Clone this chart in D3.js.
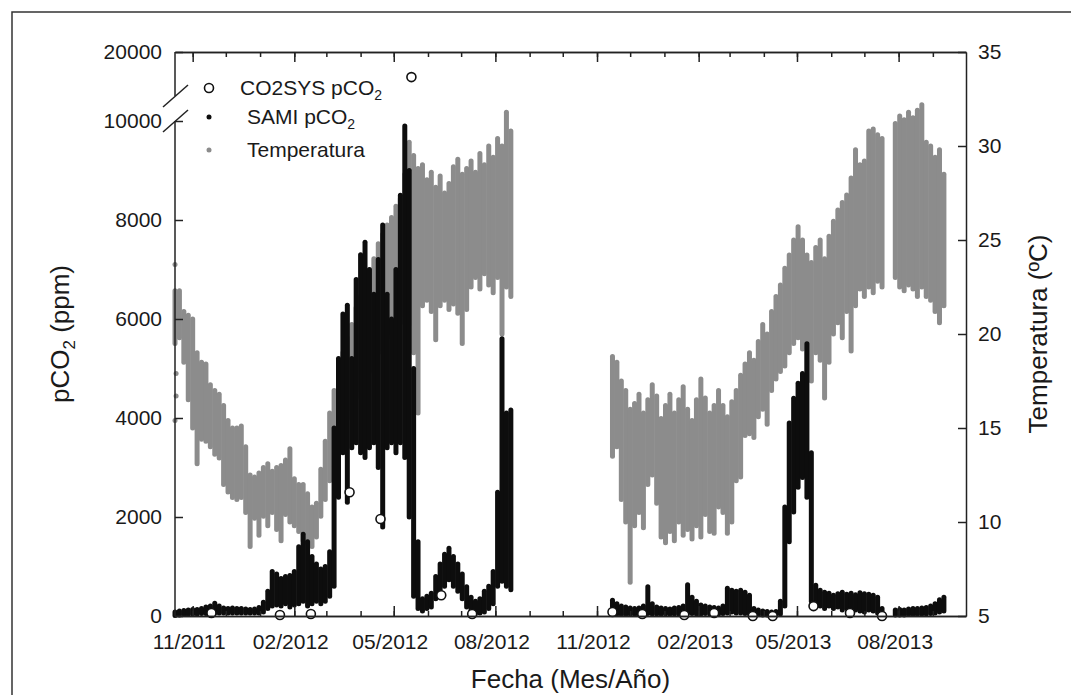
<!DOCTYPE html>
<html>
<head>
<meta charset="utf-8">
<script src="https://cdn.jsdelivr.net/npm/d3@7"></script>
<style>
body { margin: 0; background: #fff; }
text { font-family: "Liberation Sans", Arial, sans-serif; fill: #1a1a1a; }
</style>
</head>
<body>
<div id="chart"></div>
<script>
// Dense records read from the picture as the low/high edge of the dot cloud,
// one pair every 4 days from the start date of each deployment (null = no data)
const stepDays = 4;
const start1 = "2011-10-16";
const start2 = "2012-11-15";

const tempLow1 = [19.5,19.8,18.5,16.5,15.0,13.1,14.4,14.3,14.0,13.6,
    13.4,12.0,11.6,11.3,11.2,11.3,10.5,8.7,10.2,9.3,
    10.3,9.8,10.5,9.6,9.0,10.4,10.0,9.8,9.5,9.0,
    8.9,8.7,9.2,10.3,11.2,12.2,13.0,14.2,14.8,15.5,
    16.0,16.6,17.0,17.5,18.0,18.4,19.0,19.2,19.8,20.0,
    20.4,20.6,21.0,20.5,19.0,15.8,21.5,21.8,21.2,19.7,
    21.5,21.8,21.3,21.6,21.1,19.5,21.3,22.5,23.0,22.4,
    23.2,22.6,22.2,23.0,20.0,22.5,22.0];
const tempHigh1 = [22.3,22.3,21.2,21.0,20.8,19.0,18.5,18.4,17.3,17.0,
    16.8,16.2,15.4,15.0,15.0,15.1,14.0,12.5,12.4,12.6,
    12.9,13.1,12.7,12.9,13.0,13.3,13.9,12.3,12.0,12.0,
    11.5,10.8,11.0,12.8,14.3,15.8,17.0,18.0,19.0,19.8,
    20.5,21.4,22.0,22.8,23.4,24.0,24.8,25.3,25.8,26.2,
    26.8,27.2,28.5,30.2,29.5,28.8,29.0,28.2,28.6,27.8,
    28.4,27.5,28.0,28.9,29.3,28.5,28.8,29.2,28.6,29.6,
    29.0,30.0,29.4,30.4,30.0,31.8,30.8];
const tempLow2 = [13.5,14.0,11.2,10.0,6.8,9.8,10.5,9.7,12.0,12.5,
    11.0,9.2,8.9,9.5,9.0,10.0,9.3,9.6,9.1,9.8,
    9.2,10.4,9.5,9.4,10.8,10.5,9.4,10.0,12.2,12.4,
    14.6,14.7,14.5,15.6,16.0,15.2,17.0,17.6,18.0,18.3,
    19.0,19.5,19.8,19.2,18.0,17.5,19.0,18.6,16.6,18.5,
    20.0,20.6,19.8,21.2,19.1,21.5,22.4,22.0,22.5,22.2,
    22.8,22.5,null,null,23.0,22.5,22.3,22.6,22.4,22.0,
    22.5,22.0,21.8,21.2,20.6,21.5];
const tempHigh2 = [18.8,18.5,17.5,17.0,16.0,16.3,16.8,15.8,16.5,17.3,
    16.7,15.5,16.2,16.8,15.8,16.5,17.2,16.0,15.4,16.5,
    17.6,16.6,15.8,16.2,17.0,16.2,15.6,16.4,17.0,17.8,
    18.4,19.0,18.6,19.6,20.5,20.0,21.2,22.0,22.6,23.5,
    24.2,25.0,25.7,25.0,24.2,23.8,24.6,25.0,24.0,25.2,
    26.0,26.6,27.0,27.4,28.3,29.8,29.0,29.2,30.8,30.9,
    30.6,30.4,null,null,31.2,31.6,31.4,31.8,31.5,31.9,
    32.2,30.2,30.0,29.4,29.8,28.5];

const samiLow1 = [10,20,30,30,40,40,50,50,50,60,
    60,60,60,60,60,60,60,60,60,60,
    80,150,200,220,200,250,180,220,250,300,
    200,250,300,250,300,400,600,2400,3300,2300,
    3400,3500,3300,3200,3400,3500,3000,1800,3400,3500,
    3300,3500,3200,2000,400,150,100,150,180,350,
    500,600,730,600,500,350,180,80,50,60,
    80,150,250,600,700,600,530];
const samiHigh1 = [80,100,110,120,130,130,150,180,200,260,
    200,160,150,160,150,150,140,130,140,170,
    280,500,900,850,760,800,820,900,1400,1650,
    1500,1200,1050,950,1000,1300,3800,5200,6100,6280,
    5200,6800,7300,7550,7000,6500,7200,7900,6500,6000,
    7000,8500,9900,9000,5000,1500,350,400,460,800,
    1050,1250,1370,1200,1050,850,590,380,300,350,
    500,600,900,2500,5600,4100,4160];
const samiLow2 = [60,40,30,30,40,30,30,40,50,40,
    40,40,40,40,40,40,50,60,50,40,
    40,50,40,40,40,50,60,80,60,60,
    50,40,30,30,20,20,20,20,40,200,
    1500,2100,2600,2800,2400,300,250,200,150,200,
    150,180,120,150,100,120,100,80,120,100,
    60,40,null,null,20,20,20,30,30,30,
    40,40,50,60,80,100];
const samiHigh2 = [320,250,200,180,160,150,160,200,590,250,
    180,160,150,140,160,170,200,630,380,300,
    220,200,180,170,160,200,560,520,500,520,
    480,420,150,120,100,90,80,90,300,2200,
    3900,4400,4700,4900,5500,3300,620,520,480,460,
    420,450,480,440,460,430,470,450,440,420,
    380,150,null,null,120,130,120,140,150,150,
    160,170,200,250,330,380];

// Loose temperature dots at the very start
const strayTempDates = ["2011-10-16", "2011-10-17", "2011-10-17", "2011-10-16"];
const strayTempValues = [23.7, 17.9, 16.7, 15.4];

// CO2SYS discrete samples
const co2sysDates = ["2011-11-18", "2012-01-19", "2012-02-16", "2012-03-22", "2012-04-19",
    "2012-05-17", "2012-06-13", "2012-07-11", "2012-11-15", "2012-12-12", "2013-01-19",
    "2013-02-15", "2013-03-22", "2013-04-09", "2013-05-16", "2013-06-18", "2013-07-17"];
const co2sysValues = [60, 20, 40, 2500, 1960, 14300, 420, 40, 80, 40, 20, 60, 0, 0, 200, 60, 0];

// Axis ticks
const xMajorTicks = ["2011-11-01", "2012-02-01", "2012-05-01", "2012-08-01",
    "2012-11-01", "2013-02-01", "2013-05-01", "2013-08-01"];
const pco2Ticks = [0, 2000, 4000, 6000, 8000, 10000];
const pco2TopTicks = [20000];
const tempTicks = [5, 10, 15, 20, 25, 30, 35];

const parseDate = d3.utcParse("%Y-%m-%d");

function buildSeries(start, lows, highs)
{
    const t0 = parseDate(start);
    return lows.map((lo, i) => ({ date: d3.utcDay.offset(t0, i * stepDays), lo: lo, hi: highs[i] }))
        .filter(d => d.lo != null && d.hi != null);
}

const tempData = buildSeries(start1, tempLow1, tempHigh1).concat(buildSeries(start2, tempLow2, tempHigh2));
const samiData = buildSeries(start1, samiLow1, samiHigh1).concat(buildSeries(start2, samiLow2, samiHigh2));

// Layout (plot frame in page pixels)
var svgWidth = 1071, svgHeight = 695;
var plotLeft = 175, plotRight = 966, plotTop = 52, plotBottom = 616;

var svg = d3.select("#chart")
    .append("svg")
    .attr("width", svgWidth)
    .attr("height", svgHeight)
    .style("display", "block");

// Outer frame of the figure
svg.append("rect")
    .attr("x", 12).attr("y", 12)
    .attr("width", 1100).attr("height", 720)
    .attr("fill", "none")
    .attr("stroke", "#333")
    .attr("stroke-width", 1.5);

// Scales
var x = d3.scaleUtc()
    .domain([parseDate("2011-10-16"), parseDate("2013-10-01")])
    .range([plotLeft, plotRight]);

var yLow = d3.scaleLinear().domain([0, 10000]).range([plotBottom, 121]);
var yHigh = d3.scaleLinear().domain([10000, 20000]).range([96, plotTop]);
function yC(v) { return v <= 10000 ? yLow(v) : yHigh(v); }

var yT = d3.scaleLinear().domain([5, 35]).range([plotBottom, plotTop]);

// Temperature cloud (gray)
svg.append("g")
    .selectAll("line")
    .data(tempData)
    .join("line")
    .attr("x1", d => x(d.date)).attr("x2", d => x(d.date))
    .attr("y1", d => yT(d.lo)).attr("y2", d => yT(d.hi))
    .attr("stroke", "#8c8c8c")
    .attr("stroke-width", 5)
    .attr("stroke-linecap", "round");

svg.append("g")
    .selectAll("circle")
    .data(strayTempDates)
    .join("circle")
    .attr("cx", d => x(parseDate(d)))
    .attr("cy", (d, i) => yT(strayTempValues[i]))
    .attr("r", 2.5)
    .attr("fill", "#8c8c8c");

// SAMI pCO2 cloud (black)
svg.append("g")
    .selectAll("line")
    .data(samiData)
    .join("line")
    .attr("x1", d => x(d.date)).attr("x2", d => x(d.date))
    .attr("y1", d => yC(d.lo)).attr("y2", d => yC(d.hi))
    .attr("stroke", "#0d0d0d")
    .attr("stroke-width", 5)
    .attr("stroke-linecap", "round");

// CO2SYS circles
svg.append("g")
    .selectAll("circle")
    .data(co2sysDates)
    .join("circle")
    .attr("cx", d => x(parseDate(d)))
    .attr("cy", (d, i) => yC(co2sysValues[i]))
    .attr("r", 4.5)
    .attr("fill", "#fff")
    .attr("stroke", "#111")
    .attr("stroke-width", 1.6);

function styleAxis(g)
{
    g.selectAll("line").attr("stroke", "#222").attr("stroke-width", 1.5);
    g.select(".domain").attr("stroke", "#222").attr("stroke-width", 1.5);
    g.selectAll("text")
        .style("font-family", "'Liberation Sans', Arial, sans-serif")
        .style("font-size", "21px")
        .attr("fill", "#1a1a1a");
}

var majorDates = xMajorTicks.map(parseDate);
var monthDates = d3.utcMonth.range(parseDate("2011-11-01"), parseDate("2013-10-01"));

// X axis bottom: minor ticks then major with labels
svg.append("g")
    .attr("transform", "translate(0," + plotBottom + ")")
    .call(d3.axisBottom(x).tickValues(monthDates).tickSizeInner(-5).tickSizeOuter(0).tickFormat(""))
    .call(styleAxis);

svg.append("g")
    .attr("transform", "translate(0," + plotBottom + ")")
    .call(d3.axisBottom(x).tickValues(majorDates).tickSizeInner(-10).tickSizeOuter(0)
        .tickPadding(18).tickFormat(d3.utcFormat("%m/%Y")))
    .call(styleAxis)
    .call(g => g.selectAll(".tick text").attr("dx", -4));

// X axis top (mirror ticks)
svg.append("g")
    .attr("transform", "translate(0," + plotTop + ")")
    .call(d3.axisTop(x).tickValues(monthDates).tickSizeInner(-5).tickSizeOuter(0).tickFormat(""))
    .call(styleAxis);

svg.append("g")
    .attr("transform", "translate(0," + plotTop + ")")
    .call(d3.axisTop(x).tickValues(majorDates).tickSizeInner(-10).tickSizeOuter(0).tickFormat(""))
    .call(styleAxis);

// Left axis, broken between 10000 and 20000
svg.append("g")
    .attr("transform", "translate(" + plotLeft + ",0)")
    .call(d3.axisLeft(yLow).tickValues(pco2Ticks).tickSizeInner(-8).tickSizeOuter(0)
        .tickPadding(13).tickFormat(d3.format("d")))
    .call(styleAxis)
    .call(g => g.select(".domain").remove());

svg.append("g")
    .attr("transform", "translate(" + plotLeft + ",0)")
    .call(d3.axisLeft(yHigh).tickValues(pco2TopTicks).tickSizeInner(-8).tickSizeOuter(0)
        .tickPadding(13).tickFormat(d3.format("d")))
    .call(styleAxis)
    .call(g => g.select(".domain").remove());

var axisSegments = [[yHigh(20000), yHigh(10000)], [yLow(10000), yLow(0)]];
svg.append("g")
    .selectAll("line")
    .data(axisSegments)
    .join("line")
    .attr("x1", plotLeft).attr("x2", plotLeft)
    .attr("y1", d => d[0]).attr("y2", d => d[1])
    .attr("stroke", "#222")
    .attr("stroke-width", 1.5);

// Break marks
svg.append("g")
    .selectAll("line")
    .data([yHigh(10000), yLow(10000)])
    .join("line")
    .attr("x1", plotLeft - 12).attr("y1", d => d + 11)
    .attr("x2", plotLeft + 13).attr("y2", d => d - 11)
    .attr("stroke", "#222")
    .attr("stroke-width", 1.5);

// Right axis (temperature)
svg.append("g")
    .attr("transform", "translate(" + plotRight + ",0)")
    .call(d3.axisRight(yT).tickValues(tempTicks).tickSizeInner(-8).tickSizeOuter(0).tickPadding(12))
    .call(styleAxis);

// Axis titles
var midY = (plotTop + plotBottom) / 2;
var yTitle = svg.append("text")
    .attr("transform", "translate(69," + midY + ") rotate(-90)")
    .attr("text-anchor", "middle")
    .style("font-size", "26px");
yTitle.append("tspan").text("pCO");
yTitle.append("tspan").text("2").attr("dy", 6).style("font-size", "17px");
yTitle.append("tspan").text(" (ppm)").attr("dy", -6);

svg.append("text")
    .attr("transform", "translate(1047," + midY + ") rotate(-90)")
    .attr("text-anchor", "middle")
    .style("font-size", "26px")
    .text("Temperatura (ºC)");

svg.append("text")
    .attr("x", (plotLeft + plotRight) / 2)
    .attr("y", 688)
    .attr("text-anchor", "middle")
    .style("font-size", "26px")
    .text("Fecha (Mes/Año)");

// Legend
var legend = svg.append("g");
legend.append("circle")
    .attr("cx", 209).attr("cy", 88).attr("r", 4.5)
    .attr("fill", "#fff").attr("stroke", "#111").attr("stroke-width", 1.6);
var l1 = legend.append("text").attr("x", 240).attr("y", 95).style("font-size", "21px");
l1.append("tspan").text("CO2SYS pCO");
l1.append("tspan").text("2").attr("dy", 5).style("font-size", "14px");

legend.append("circle")
    .attr("cx", 209).attr("cy", 117).attr("r", 2.5)
    .attr("fill", "#0d0d0d");
var l2 = legend.append("text").attr("x", 247).attr("y", 124).style("font-size", "21px");
l2.append("tspan").text("SAMI pCO");
l2.append("tspan").text("2").attr("dy", 5).style("font-size", "14px");

legend.append("circle")
    .attr("cx", 209).attr("cy", 150).attr("r", 2.5)
    .attr("fill", "#8c8c8c");
legend.append("text").attr("x", 247).attr("y", 157).style("font-size", "21px").text("Temperatura");
</script>
</body>
</html>
